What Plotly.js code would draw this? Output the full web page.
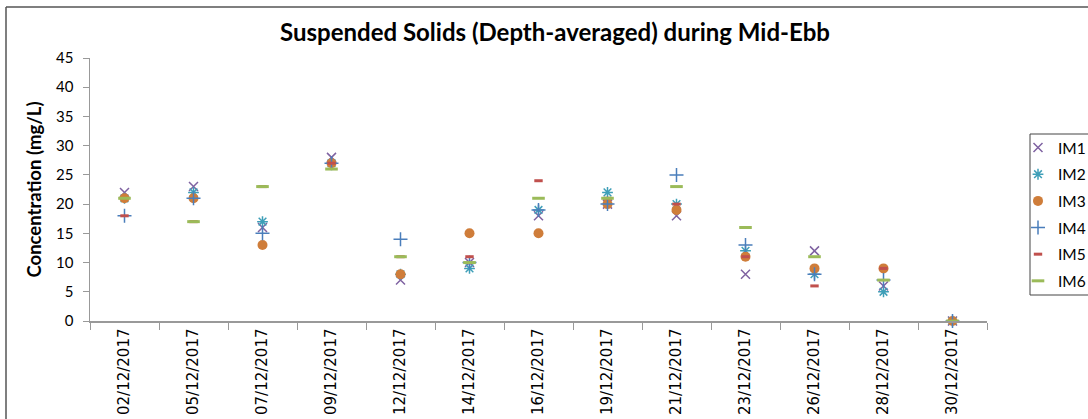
<!DOCTYPE html>
<html>
<head>
<meta charset="utf-8">
<script src="https://cdn.plot.ly/plotly-3.0.1.min.js"></script>
<style>
html,body{margin:0;padding:0;background:#fff;overflow:hidden;width:1088px;height:419px;}
#chart{width:1140px;height:419px;}
</style>
</head>
<body>
<div id="chart"></div>
<script>
const categories = ["02/12/2017","05/12/2017","07/12/2017","09/12/2017","12/12/2017","14/12/2017","16/12/2017","19/12/2017","21/12/2017","23/12/2017","26/12/2017","28/12/2017","30/12/2017"];
const IM1 = [22, 23, 16, 28, 7, 10, 18, 20, 18, 8, 12, 6, 0];
const IM2 = [21, 22, 17, 27, 8, 9, 19, 22, 20, 12, 8, 5, 0];
const IM3 = [21, 21, 13, 27, 8, 15, 15, 20, 19, 11, 9, 9, 0];
const IM4 = [18, 21, 15, 27, 14, 10, 19, 20, 25, 13, 8, 7, 0];
const IM5 = [18, 17, 23, 27, 11, 11, 24, 21, 20, 11, 6, 9, 0];
const IM6 = [21, 17, 23, 26, 11, 10, 21, 21, 23, 16, 11, 7, 0];
const seriesNames = ["IM1","IM2","IM3","IM4","IM5","IM6"];
const yTicks = [0,5,10,15,20,25,30,35,40,45];

const styles = [
  {symbol:"x-thin-open", size:9, color:"#7F62A1", lw:1.5},
  {symbol:"asterisk-open", size:9, color:"#3F9FB8", lw:1.5},
  {symbol:"circle", size:10, color:"#CF7D3A", lw:0},
  {symbol:"cross-thin-open", size:10, color:"#4A7EBB", lw:1.5},
  {symbol:"line-ew-open", size:6, color:"#C0504D", lw:3},
  {symbol:"line-ew-open", size:9, color:"#9BBB59", lw:3}
];
const allSeries = [IM1, IM2, IM3, IM4, IM5, IM6];

const traces = allSeries.map((vals, i) => ({
  type: "scatter",
  mode: "markers",
  name: seriesNames[i],
  x: categories,
  y: vals,
  legendgroup: "g" + i,
  marker: {
    symbol: styles[i].symbol,
    size: styles[i].size,
    color: styles[i].color,
    line: {color: styles[i].color, width: styles[i].lw}
  },
  cliponaxis: false
}));

const W = 1140, H = 419;
const L = 90, R = 987, T = 58, B = 321;
const px2x = p => (p - L) / (R - L);
const px2y = p => (B - p) / (B - T);

const layout = {
  width: W, height: H,
  margin: {l: L, r: W - R, t: T, b: H - B, pad: 0},
  paper_bgcolor: "#fff",
  plot_bgcolor: "#fff",
  showlegend: true,
  title: {
    text: "<b>Suspended Solids (Depth-averaged) during Mid-Ebb</b>",
    font: {family: "Lato, 'Open Sans', sans-serif", size: 24, color: "#000"},
    x: px2x(555), xref: "paper", xanchor: "center",
    y: 1 - 33 / H, yref: "container", yanchor: "middle"
  },
  xaxis: {
    type: "category",
    categoryorder: "array",
    categoryarray: categories,
    range: [-0.5, categories.length - 0.5],
    showgrid: false,
    zeroline: false,
    showline: true, linecolor: "#999", linewidth: 1.5,
    ticks: "outside", ticklen: 7, tickcolor: "#999", tickwidth: 1,
    tickson: "boundaries",
    tickangle: -90,
    tickfont: {family: "'DejaVu Sans', sans-serif", size: 15, color: "#000"},
    automargin: false, fixedrange: true
  },
  yaxis: {
    range: [0, 45],
    tickvals: yTicks,
    showgrid: false,
    zeroline: false,
    showline: true, linecolor: "#999", linewidth: 1.5,
    ticks: "outside", ticklen: 6, tickcolor: "#999", tickwidth: 1,
    ticklabelstandoff: 6,
    tickfont: {family: "Lato, 'Open Sans', sans-serif", size: 15, color: "#000"},
    title: {
      text: "<b>Concentration (mg/L)</b>",
      font: {family: "Lato, 'Open Sans', sans-serif", size: 18.5, color: "#000"},
      standoff: 9
    },
    automargin: false, fixedrange: true
  },
  legend: {
    x: px2x(1018), xanchor: "left",
    y: px2y(131), yanchor: "top",
    bgcolor: "rgba(0,0,0,0)",
    borderwidth: 0,
    font: {family: "Lato, 'Open Sans', sans-serif", size: 15.5, color: "#000"},
    tracegroupgap: 3.5,
    itemwidth: 30
  },
  shapes: [
    {type: "line", xref: "paper", yref: "paper", x0: px2x(6), x1: px2x(6), y0: px2y(7), y1: px2y(425), line: {color: "#555", width: 1.5}},
    {type: "line", xref: "paper", yref: "paper", x0: px2x(6), x1: px2x(1140), y0: px2y(7), y1: px2y(7), line: {color: "#555", width: 1.5}},
    {type: "rect", xref: "paper", yref: "paper", x0: px2x(1030), x1: px2x(1125), y0: px2y(134), y1: px2y(295), line: {color: "#444", width: 1}, fillcolor: "rgba(0,0,0,0)", layer: "below"}
  ]
};

Plotly.newPlot("chart", traces, layout, {displayModeBar: false, staticPlot: true});
</script>
</body>
</html>
